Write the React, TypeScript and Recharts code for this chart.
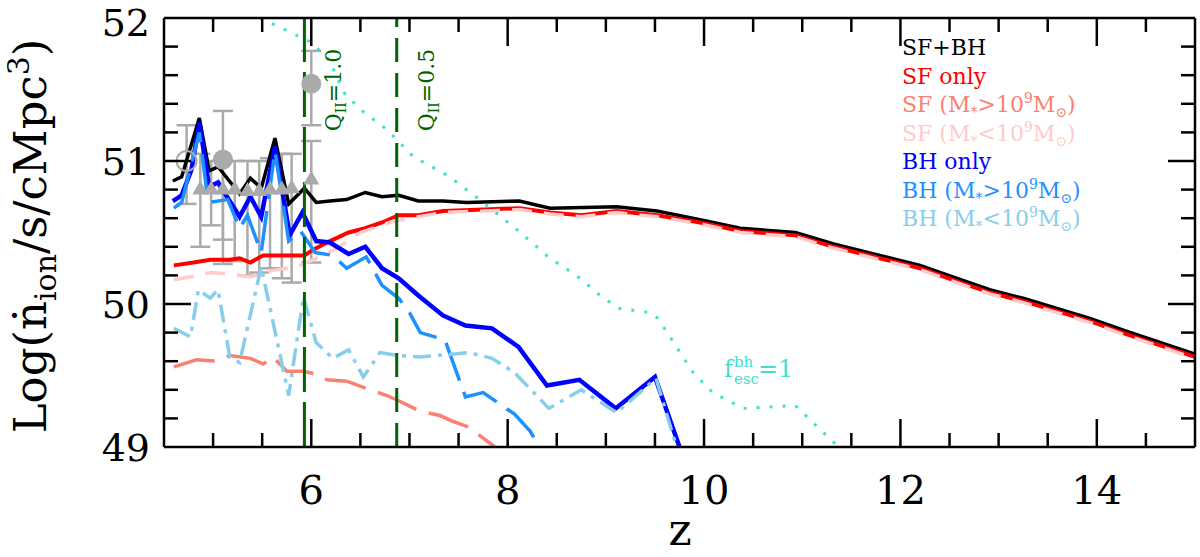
import React from 'react';
import { ComposedChart, Line, Scatter, ErrorBar, XAxis, YAxis, ReferenceLine } from 'recharts';

// SF+BH (black)
const zSfBh = [4.59, 4.68, 4.86, 4.96, 5.05, 5.27, 5.38, 5.49, 5.63, 5.77, 5.93, 6.05, 6.19, 6.36, 6.55, 6.72, 6.89, 7.09, 7.34, 7.58, 8.12, 8.43, 9.11, 9.52, 9.96, 10.37, 10.93, 11.32, 11.79, 12.2, 12.57, 12.91, 13.25, 13.93, 14.3, 15.0];
const ySfBh = [50.86, 50.89, 51.3, 50.93, 50.96, 50.77, 50.88, 50.81, 51.16, 50.7, 50.81, 50.71, 50.72, 50.73, 50.78, 50.75, 50.76, 50.72, 50.72, 50.71, 50.72, 50.67, 50.68, 50.65, 50.59, 50.53, 50.5, 50.42, 50.34, 50.27, 50.18, 50.1, 50.04, 49.9, 49.81, 49.65];

// SF only (red)
const zSf = [4.6, 4.8, 4.97, 5.17, 5.27, 5.38, 5.51, 5.63, 5.82, 5.93, 6.02, 6.19, 6.38, 6.55, 6.72, 6.89, 7.09, 7.34, 7.75, 8.12, 8.43, 8.75, 9.11, 9.52, 9.96, 10.37, 10.93, 11.32, 11.79, 12.2, 12.57, 12.91, 13.25, 13.93, 14.3, 15.0];
const ySf = [50.27, 50.29, 50.31, 50.31, 50.32, 50.29, 50.34, 50.34, 50.34, 50.34, 50.38, 50.44, 50.5, 50.53, 50.57, 50.62, 50.62, 50.65, 50.66, 50.67, 50.64, 50.62, 50.65, 50.62, 50.57, 50.51, 50.48, 50.4, 50.32, 50.25, 50.16, 50.08, 50.02, 49.88, 49.79, 49.63];

// SF, M* > 1e9 (salmon)
const zSfHi = [4.6, 4.83, 5.04, 5.17, 5.38, 5.51, 5.61, 5.75, 5.92, 6.05, 6.16, 6.36, 6.56, 6.77, 6.9, 7.11, 7.31, 7.44, 7.6, 7.87];
const ySfHi = [49.56, 49.61, 49.6, 49.64, 49.62, 49.58, 49.63, 49.53, 49.53, 49.51, 49.47, 49.46, 49.41, 49.36, 49.32, 49.25, 49.22, 49.18, 49.14, 49.0];

// SF, M* < 1e9 (pink)
const zSfLo = [4.6, 4.77, 4.97, 5.17, 5.38, 5.51, 5.65, 5.85, 5.95, 6.09, 6.26, 6.5, 6.84, 7.09, 7.34, 7.75, 8.12, 8.43, 8.75, 9.11, 9.52, 9.96, 10.37, 10.93, 11.32, 11.79, 12.2, 12.57, 12.91, 13.25, 13.93, 14.3, 15.0];
const ySfLo = [50.17, 50.19, 50.22, 50.21, 50.19, 50.22, 50.24, 50.26, 50.29, 50.33, 50.39, 50.5, 50.58, 50.61, 50.64, 50.65, 50.66, 50.63, 50.61, 50.64, 50.61, 50.56, 50.5, 50.47, 50.39, 50.31, 50.24, 50.15, 50.07, 50.01, 49.87, 49.78, 49.62];

// BH only (blue)
const zBh = [4.59, 4.68, 4.78, 4.86, 4.96, 5.05, 5.27, 5.38, 5.49, 5.63, 5.78, 5.91, 6.05, 6.19, 6.38, 6.55, 6.72, 6.89, 7.09, 7.34, 7.57, 7.84, 8.11, 8.4, 8.73, 9.1, 9.5, 9.75];
const yBh = [50.72, 50.76, 50.94, 51.27, 50.82, 50.85, 50.61, 50.75, 50.61, 51.1, 50.48, 50.64, 50.44, 50.43, 50.35, 50.4, 50.25, 50.18, 50.06, 49.92, 49.85, 49.83, 49.7, 49.43, 49.47, 49.27, 49.49, 49.0];

// BH, M* > 1e9 (dodger blue)
const zBhHi = [4.6, 4.68, 4.86, 4.95, 5.15, 5.27, 5.35, 5.49, 5.63, 5.77, 5.89, 6.04, 6.22, 6.36, 6.56, 6.72, 6.89, 7.0, 7.11, 7.36, 7.57, 7.75, 8.07, 8.23, 8.32];
const yBhHi = [50.67, 50.71, 51.2, 50.71, 50.73, 50.53, 50.62, 50.36, 51.07, 50.44, 50.51, 50.36, 50.34, 50.25, 50.33, 50.13, 50.04, 49.94, 49.8, 49.75, 49.35, 49.38, 49.23, 49.11, 49.0];

// BH, M* < 1e9 (sky blue)
const zBhLo = [4.6, 4.77, 4.85, 4.97, 5.05, 5.17, 5.27, 5.49, 5.77, 5.92, 6.05, 6.22, 6.38, 6.53, 6.7, 6.89, 7.11, 7.61, 7.84, 8.07, 8.42, 8.75, 9.11, 9.51, 9.72];
const yBhLo = [49.83, 49.77, 50.1, 50.04, 50.1, 49.63, 49.59, 50.26, 49.36, 50.05, 49.73, 49.62, 49.68, 49.49, 49.66, 49.64, 49.63, 49.66, 49.62, 49.52, 49.27, 49.4, 49.24, 49.48, 49.0];

// f_esc^bh = 1 (turquoise dotted)
const zEsc = [5.48, 6.0, 6.19, 6.33, 6.5, 6.77, 7.04, 7.41, 7.75, 8.13, 8.43, 8.7, 8.94, 9.13, 9.45, 9.53, 9.69, 9.89, 10.09, 10.4, 10.93, 11.11, 11.37];
const yEsc = [52.0, 51.83, 51.7, 51.48, 51.36, 51.22, 51.03, 50.89, 50.71, 50.5, 50.32, 50.2, 50.06, 49.97, 49.94, 49.9, 49.73, 49.52, 49.38, 49.27, 49.29, 49.17, 49.0];

// observations (grey)
const zTri = [4.87, 4.98, 5.1, 5.22, 5.35, 5.47, 5.58, 5.7, 5.8, 6.0];
const yTri = [50.8, 50.8, 50.8, 50.8, 50.79, 50.79, 50.8, 50.8, 50.81, 50.87];
const loTri = [50.4, 50.55, 50.28, 50.3, 50.2, 50.22, 50.25, 50.18, 50.15, 50.29];
const hiTri = [51.05, 51.0, 51.0, 51.0, 51.0, 51.0, 51.02, 51.05, 51.05, 51.14];
const zDot = [5.1, 6.0];
const yDot = [51.01, 51.54];
const loDot = [50.45, 51.25];
const hiDot = [51.35, 51.77];
const zOpen = [4.73];
const yOpen = [51.0];
const loOpen = [50.7];
const hiOpen = [51.25];

const qLines = [5.93, 6.87];
const qTexts = ['1.0', '0.5'];

const xTicks = [5, 5.5, 6, 6.5, 7, 7.5, 8, 8.5, 9, 9.5, 10, 10.5, 11, 11.5, 12, 12.5, 13, 13.5, 14, 14.5];
const xMajor = [6, 8, 10, 12, 14];
const yTicks = [49, 49.2, 49.4, 49.6, 49.8, 50, 50.2, 50.4, 50.6, 50.8, 51, 51.2, 51.4, 51.6, 51.8, 52];
const yMajor = [49, 50, 51, 52];

const SERIF = "'DejaVu Serif', serif";

const pts = (zs: number[], ys: number[]) => zs.map((z, i) => ({ z, y: ys[i] }));
const obs = (zs: number[], ys: number[], lo: number[], hi: number[]) =>
  zs.map((z, i) => ({ z, y: ys[i], err: [ys[i] - lo[i], hi[i] - ys[i]] }));

const BottomTick = (p: any) => {
  const major = xMajor.includes(p.payload.value);
  return (
    <g>
      <line x1={p.x} x2={p.x} y1={p.y} y2={p.y - (major ? 28 : 14)} stroke="#000" strokeWidth={2.5} />
      {major && (
        <text x={p.x} y={p.y + 57} textAnchor="middle" fontFamily={SERIF} fontSize={40} fill="#000">
          {p.payload.value}
        </text>
      )}
    </g>
  );
};

const TopTick = (p: any) => {
  const major = xMajor.includes(p.payload.value);
  return <line x1={p.x} x2={p.x} y1={p.y} y2={p.y + (major ? 28 : 14)} stroke="#000" strokeWidth={2.5} />;
};

const LeftTick = (p: any) => {
  const v = p.payload.value;
  const major = yMajor.includes(v);
  return (
    <g>
      {v > 49 && v < 52 && (
        <line x1={p.x} x2={p.x + (major ? 27 : 14)} y1={p.y} y2={p.y} stroke="#000" strokeWidth={2.5} />
      )}
      {major && (
        <text x={p.x - 14} y={p.y + (v === 52 ? 18 : 14)} textAnchor="end" fontFamily={SERIF} fontSize={38} fill="#000">
          {v}
        </text>
      )}
    </g>
  );
};

const RightTick = (p: any) => {
  const v = p.payload.value;
  if (v <= 49 || v >= 52) return <g />;
  const major = yMajor.includes(v);
  return <line x1={p.x} x2={p.x - (major ? 27 : 14)} y1={p.y} y2={p.y} stroke="#000" strokeWidth={2.5} />;
};

const qLabel = (txt: string) => (p: any) => {
  const vb = p.viewBox || {};
  const bx = vb.x + 37;
  const cy = vb.y + 72;
  return (
    <text transform={`translate(${bx},${cy}) rotate(-90)`} textAnchor="middle" fontFamily={SERIF} fontSize={22} fill="#006400">
      Q<tspan dy={5} fontSize={14}>II</tspan>
      <tspan dy={-5}>={txt}</tspan>
    </text>
  );
};

const Tri = (p: any) => (
  <path d={`M${p.cx},${p.cy - 9} L${p.cx + 8},${p.cy + 5} L${p.cx - 8},${p.cy + 5} Z`} fill="#aaaaaa" />
);
const Dot = (p: any) => <circle cx={p.cx} cy={p.cy} r={10} fill="#aaaaaa" />;
const OpenDot = (p: any) => <circle cx={p.cx} cy={p.cy} r={10} fill="none" stroke="#aaaaaa" strokeWidth={2} />;

const legendRows = [
  { c: '#000000', t: 'SF+BH' },
  { c: '#ff0000', t: 'SF only' },
  { c: '#fa8072', t: 'SF', op: '>' },
  { c: '#ffcccc', t: 'SF', op: '<' },
  { c: '#0000ff', t: 'BH only' },
  { c: '#1e90ff', t: 'BH', op: '>' },
  { c: '#87ceeb', t: 'BH', op: '<' },
];

const axisLine = { stroke: '#000', strokeWidth: 2.5 };

export default function App() {
  const lineProps = { dot: false, isAnimationActive: false, type: 'linear' as const, dataKey: 'y' };
  return (
    <div style={{ position: 'absolute', left: 0, top: 0, width: 1200, height: 557, background: '#fff' }}>
      <ComposedChart width={1200} height={557} margin={{ top: 17, right: 4, bottom: 109, left: 163 }}>
        <XAxis xAxisId="b" type="number" dataKey="z" domain={[4.5, 15]} allowDataOverflow ticks={xTicks} interval={0}
          tick={BottomTick} tickSize={0} tickMargin={0} tickLine={false} height={1} axisLine={axisLine} />
        <XAxis xAxisId="t" orientation="top" type="number" dataKey="z" domain={[4.5, 15]} allowDataOverflow ticks={xTicks} interval={0}
          tick={TopTick} tickSize={0} tickMargin={0} tickLine={false} height={1} axisLine={axisLine} />
        <YAxis yAxisId="l" type="number" domain={[49, 52]} allowDataOverflow ticks={yTicks} interval={0}
          tick={LeftTick} tickSize={0} tickMargin={0} tickLine={false} width={1} axisLine={axisLine} />
        <YAxis yAxisId="r" orientation="right" type="number" domain={[49, 52]} allowDataOverflow ticks={yTicks} interval={0}
          tick={RightTick} tickSize={0} tickMargin={0} tickLine={false} width={1} axisLine={axisLine} />

        <Scatter xAxisId="b" yAxisId="l" data={obs(zTri, yTri, loTri, hiTri)} dataKey="y" shape={Tri} isAnimationActive={false}>
          <ErrorBar dataKey="err" direction="y" width={10} stroke="#aaaaaa" strokeWidth={2.5} isAnimationActive={false} />
        </Scatter>
        <Scatter xAxisId="b" yAxisId="l" data={obs(zDot, yDot, loDot, hiDot)} dataKey="y" shape={Dot} isAnimationActive={false}>
          <ErrorBar dataKey="err" direction="y" width={10} stroke="#aaaaaa" strokeWidth={2.5} isAnimationActive={false} />
        </Scatter>
        <Scatter xAxisId="b" yAxisId="l" data={obs(zOpen, yOpen, loOpen, hiOpen)} dataKey="y" shape={OpenDot} isAnimationActive={false}>
          <ErrorBar dataKey="err" direction="y" width={10} stroke="#aaaaaa" strokeWidth={2.5} isAnimationActive={false} />
        </Scatter>

        <Line xAxisId="b" yAxisId="l" {...lineProps} data={pts(zSfBh, ySfBh)} stroke="#000000" strokeWidth={3.5} />
        <Line xAxisId="b" yAxisId="l" {...lineProps} data={pts(zSf, ySf)} stroke="#ff0000" strokeWidth={4} />
        <Line xAxisId="b" yAxisId="l" {...lineProps} data={pts(zSfLo, ySfLo)} stroke="#ffcccc" strokeWidth={3.5} strokeDasharray="20 12" />
        <Line xAxisId="b" yAxisId="l" {...lineProps} data={pts(zSfHi, ySfHi)} stroke="#fa8072" strokeWidth={3.5} strokeDasharray="42 13" />
        <Line xAxisId="b" yAxisId="l" {...lineProps} data={pts(zBh, yBh)} stroke="#0000ff" strokeWidth={4.5} />
        <Line xAxisId="b" yAxisId="l" {...lineProps} data={pts(zBhHi, yBhHi)} stroke="#1e90ff" strokeWidth={3.5} strokeDasharray="40 12" />
        <Line xAxisId="b" yAxisId="l" {...lineProps} data={pts(zBhLo, yBhLo)} stroke="#87ceeb" strokeWidth={3.5} strokeDasharray="18 7 4 7" />
        <Line xAxisId="b" yAxisId="l" {...lineProps} data={pts(zEsc, yEsc)} stroke="#40e0d0" strokeWidth={3} strokeDasharray="3 10" />

        <ReferenceLine xAxisId="b" yAxisId="l" x={qLines[0]} stroke="#006400" strokeWidth={3} strokeDasharray="45 10" label={qLabel(qTexts[0])} />
        <ReferenceLine xAxisId="b" yAxisId="l" x={qLines[1]} stroke="#006400" strokeWidth={3} strokeDasharray="24 11" label={qLabel(qTexts[1])} />
      </ComposedChart>

      <svg width={1200} height={557} style={{ position: 'absolute', left: 0, top: 0, pointerEvents: 'none' }}>
        <text transform="translate(46,236) rotate(-90)" textAnchor="middle" fontFamily={SERIF} fontSize={45} fill="#000">
          Log(ṅ<tspan dy={10} fontSize={30}>ion</tspan>
          <tspan dy={-10}>/s/cMpc</tspan>
          <tspan dy={-17} fontSize={30}>3</tspan>
          <tspan dy={17}>)</tspan>
        </text>
        <text x={680} y={545} textAnchor="middle" fontFamily={SERIF} fontSize={44} fill="#000">z</text>

        <text x={724} y={377} fontFamily={SERIF} fontSize={24} fill="#40e0d0">f</text>
        <text x={734} y={367} fontFamily={SERIF} fontSize={15} fill="#40e0d0">bh</text>
        <text x={734} y={384} fontFamily={SERIF} fontSize={15} fill="#40e0d0">esc</text>
        <text x={758} y={377} fontFamily={SERIF} fontSize={24} fill="#40e0d0">=1</text>

        {legendRows.map((r, i) => (
          <text key={i} x={902} y={55 + i * 28.5} fontFamily={SERIF} fontSize={22} fill={r.c}>
            {r.op ? (
              <>
                {r.t} (M<tspan dy={5} fontSize={14}>*</tspan>
                <tspan dy={-5}>{r.op}10</tspan>
                <tspan dy={-9} fontSize={14}>9</tspan>
                <tspan dy={9}>M</tspan>
                <tspan dy={5} fontSize={14}>⊙</tspan>
                <tspan dy={-5}>)</tspan>
              </>
            ) : (
              r.t
            )}
          </text>
        ))}
      </svg>
    </div>
  );
}
